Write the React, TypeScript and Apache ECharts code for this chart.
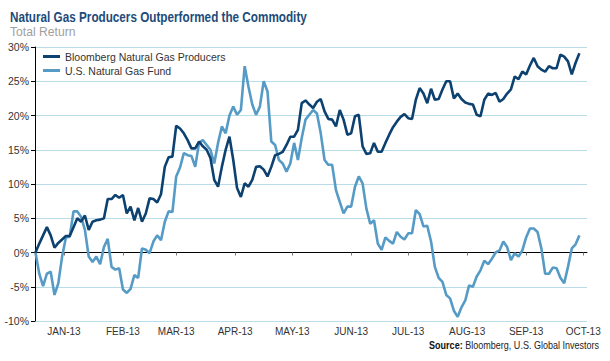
import React, { useEffect, useRef } from "react";
import * as echarts from "echarts";

// Sampling: one reading every 2 calendar days starting 2012-12-17
const startDate = "2012-12-17";
const stepDays = 2;

const producers = [
  0, 1.3, 2.5, 3.7, 2.5, 0.7, 1.4, 1.9, 2.4, 2.4,
  3.7, 5.0, 4.5, 5.4, 3.3, 4.5, 4.7, 4.8, 5.0, 7.8,
  7.8, 8.4, 8.0, 8.4, 5.7, 6.7, 4.7, 6.5, 4.5, 5.7,
  7.9, 7.8, 7.3, 8.5, 12.5, 13.9, 14.0, 18.5, 18.1, 17.4,
  16.4, 15.2, 15.2, 16.2, 15.5, 15.0, 13.8, 10.6, 9.6, 12.5,
  15.0, 16.9, 13.5, 9.4, 8.1, 10.1, 9.6, 10.6, 12.5, 12.6,
  12.1, 11.1, 12.5, 14.2, 14.4, 14.7, 15.7, 16.9, 16.9, 17.9,
  21.8, 22.2, 21.6, 21.1, 22.0, 22.4, 20.6, 19.5, 19.4, 18.4,
  20.8, 19.4, 17.2, 17.4, 19.9, 20.1, 15.5, 14.4, 14.5, 16.0,
  14.7, 14.7, 16.0, 17.2, 18.3, 19.1, 19.8, 20.2, 19.6, 19.5,
  22.3, 24.0, 23.2, 21.8, 23.9, 22.3, 22.4, 23.8, 25.0, 25.0,
  22.5, 23.2, 22.4, 21.9, 21.7, 21.6, 20.1, 19.9, 22.3, 23.2,
  23.0, 23.3, 22.0, 22.4, 23.2, 23.8, 25.7, 25.3, 26.4, 26.0,
  27.3, 28.4, 27.2, 26.7, 26.4, 27.2, 26.9, 26.9, 28.9, 28.6,
  27.9, 26.0, 27.7, 29.1,
];

const gasFund = [
  0, -3.1, -4.9, -3.1, -2.8, -6.2, -4.5, -0.6, 2.2, 2.3,
  6.0, 6.0, 5.2, 3.3, -0.6, -1.4, -0.6, -1.7, 0.8, 2.0,
  -2.1, -2.5, -2.3, -5.4, -5.9, -5.3, -3.3, -3.7, 0.6, 0.4,
  -0.1, 1.6, 2.5, 1.8, 4.5, 6.0, 5.9, 11.1, 12.4, 14.5,
  14.2, 14.1, 12.5, 16.0, 16.4, 15.7, 15.0, 13.0, 16.0, 18.4,
  17.4, 20.0, 21.3, 20.1, 20.8, 27.2, 24.2, 21.6, 20.1, 21.3,
  25.0, 23.5, 16.2, 15.7, 13.5, 13.0, 11.8, 13.0, 16.0, 13.5,
  16.7, 19.4, 20.1, 20.8, 20.3, 17.4, 13.5, 12.8, 12.8, 9.1,
  7.4, 5.7, 6.7, 6.7, 9.6, 11.1, 10.1, 6.4, 4.2, 4.7,
  1.3, 0.4, 2.2, 1.7, 1.3, 3.0, 2.3, 1.9, 2.8, 2.8,
  6.2, 5.6, 3.8, 3.9, 1.6, -2.1, -3.7, -4.3, -6.2, -6.7,
  -8.5, -9.4, -8.0, -7.0, -4.8, -5.0, -3.5, -2.6, -1.2, -1.7,
  -0.9, 0.0, 0.3, 1.6, 0.8, -1.1, -0.1, -0.6, 0.3, 2.2,
  3.5, 3.5, 3.0, 0.6, -3.1, -3.1, -2.2, -2.3, -3.7, -4.5,
  -2.1, 0.6, 1.2, 2.5,
];

const seriesNames = ["Bloomberg Natural Gas Producers", "U.S. Natural Gas Fund"];
const monthStarts = [
  "2013-01-01", "2013-02-01", "2013-03-01", "2013-04-01", "2013-05-01",
  "2013-06-01", "2013-07-01", "2013-08-01", "2013-09-01", "2013-10-01",
];
const monthLabels = [
  "JAN-13", "FEB-13", "MAR-13", "APR-13", "MAY-13",
  "JUN-13", "JUL-13", "AUG-13", "SEP-13", "OCT-13",
];
const yMin = -10;
const yMax = 30;
const yStep = 5;

const DAY = 86400000;
const ts = (s: string) => {
  const [y, m, d] = s.split("-").map(Number);
  return Date.UTC(y, m - 1, d);
};

const SANS = "'Liberation Sans', Arial, sans-serif";

export default function App() {
  const ref = useRef<HTMLDivElement>(null);

  useEffect(() => {
    if (!ref.current) return;
    const chart = echarts.init(ref.current, undefined, { renderer: "svg" });
    const t0 = ts(startDate);
    const toPoints = (arr: number[]) => arr.map((v, i) => [t0 + i * stepDays * DAY, v]);
    const tickValues = monthStarts.map(ts);
    const labelFor = (v: number) => {
      const idx = tickValues.indexOf(v);
      return idx >= 0 ? monthLabels[idx] : "";
    };
    const xMin = ts("2012-12-16") + 0.75 * DAY;
    const xMax = ts("2013-10-03");

    chart.setOption({
      animation: false,
      backgroundColor: "#ffffff",
      grid: { left: 35, right: 23, top: 47, bottom: 40, containLabel: false },
      legend: {
        data: seriesNames,
        orient: "vertical",
        left: 43,
        top: 51,
        padding: 0,
        itemGap: 3,
        itemWidth: 17,
        itemHeight: 3,
        icon: "rect",
        textStyle: { fontFamily: SANS, fontSize: 10.5, color: "#333333" },
      },
      xAxis: [
        {
          type: "value",
          min: xMin,
          max: xMax,
          axisLine: { show: true, onZero: true, lineStyle: { color: "#000000", width: 1 } },
          axisTick: { show: true, customValues: tickValues, length: 3, lineStyle: { color: "#777777" } },
          axisLabel: { show: false },
          splitLine: { show: false },
        },
        {
          type: "value",
          min: xMin,
          max: xMax,
          position: "bottom",
          axisLine: { show: false, onZero: false },
          axisTick: { show: false },
          axisLabel: {
            show: true,
            customValues: tickValues,
            formatter: (v: number) => labelFor(v),
            fontFamily: SANS,
            fontSize: 10,
            color: "#333333",
            margin: 5,
          },
          splitLine: { show: false },
        },
      ],
      yAxis: {
        type: "value",
        min: yMin,
        max: yMax,
        interval: yStep,
        axisLine: { show: true, lineStyle: { color: "#000000", width: 1 } },
        axisTick: { show: true, length: 4, lineStyle: { color: "#000000" } },
        axisLabel: {
          formatter: "{value}%",
          fontFamily: SANS,
          fontSize: 10.5,
          color: "#333333",
          margin: 6,
        },
        splitLine: { show: true, lineStyle: { color: "#b9dce9", width: 1 } },
      },
      series: [
        {
          name: seriesNames[0],
          type: "line",
          xAxisIndex: 0,
          data: toPoints(producers),
          showSymbol: false,
          symbol: "none",
          lineStyle: { color: "#0c4170", width: 2.6 },
          itemStyle: { color: "#0c4170" },
          z: 3,
        },
        {
          name: seriesNames[1],
          type: "line",
          xAxisIndex: 0,
          data: toPoints(gasFund),
          showSymbol: false,
          symbol: "none",
          lineStyle: { color: "#569bc5", width: 2.6 },
          itemStyle: { color: "#569bc5" },
          z: 2,
        },
      ],
      graphic: [
        {
          type: "text",
          x: 10,
          y: 16.7,
          scaleX: 0.82,
          style: {
            x: 0,
            y: 0,
            text: "Natural Gas Producers Outperformed the Commodity",
            fontFamily: SANS,
            fontWeight: "bold",
            fontSize: 14.3,
            fill: "#1d4b7a",
            verticalAlign: "middle",
          },
        },
        {
          type: "text",
          x: 10,
          y: 31.7,
          scaleX: 0.9,
          style: {
            x: 0,
            y: 0,
            text: "Total Return",
            fontFamily: SANS,
            fontSize: 13.5,
            fill: "#a0a0a0",
            verticalAlign: "middle",
          },
        },
        {
          type: "text",
          x: 599,
          y: 345,
          scaleX: 0.82,
          style: {
            x: 0,
            y: 0,
            text: "{b|Source:} Bloomberg, U.S. Global Investors",
            align: "right",
            verticalAlign: "middle",
            fontFamily: SANS,
            fontSize: 11,
            fill: "#222222",
            rich: {
              b: { fontFamily: SANS, fontSize: 11, fontWeight: "bold", fill: "#111111" },
            },
          },
        },
      ],
    });
    return () => chart.dispose();
  }, []);

  return <div ref={ref} style={{ width: 610, height: 361, position: "absolute", left: 0, top: 0 }} />;
}
